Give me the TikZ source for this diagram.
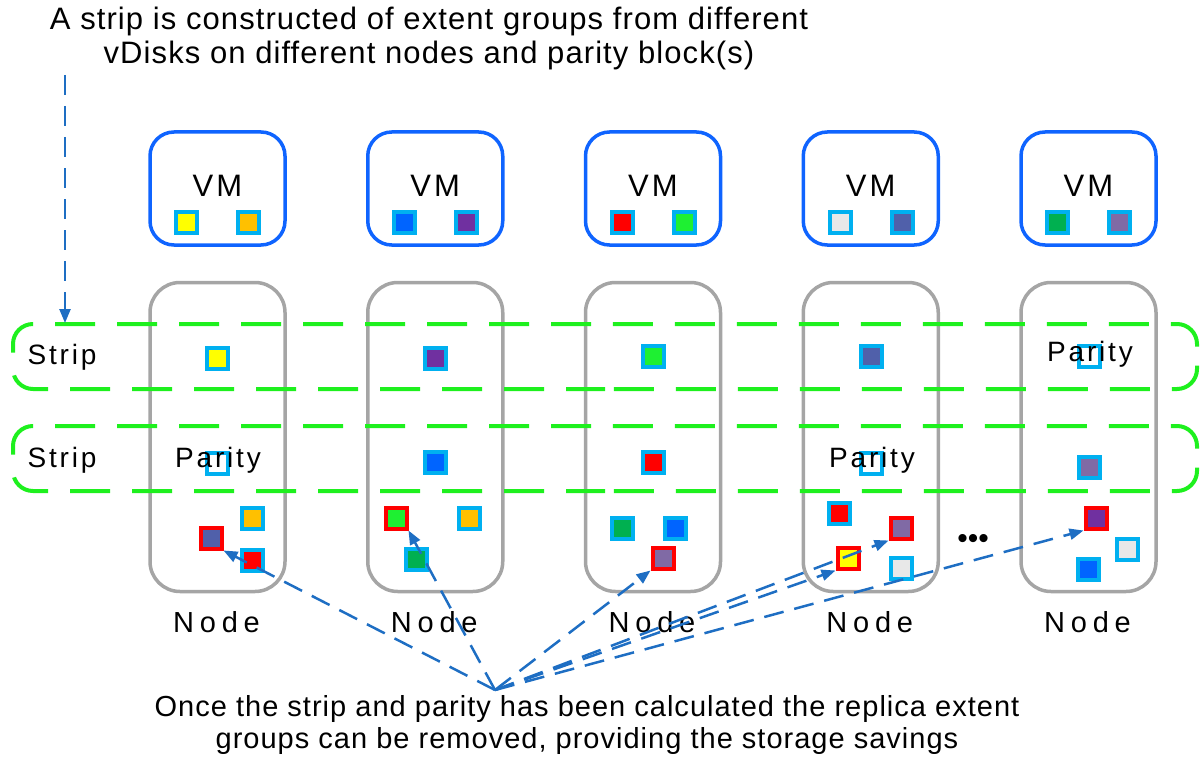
\documentclass[tikz,border=0pt]{standalone}
\usepackage{fontspec}
\setmainfont{Liberation Sans}
\newfontfamily\capfont[LetterSpace=3.5]{Liberation Sans}
\newfontfamily\lblfont[LetterSpace=10]{Liberation Sans}
\newfontfamily\nodefont[LetterSpace=20]{Liberation Sans}
\usetikzlibrary{arrows.meta}
\definecolor{vmblue}{RGB}{15,100,255}
\definecolor{boxgray}{RGB}{165,165,165}
\definecolor{sqcyan}{RGB}{0,176,240}
\definecolor{stripgreen}{RGB}{30,240,30}
\definecolor{arrblue}{RGB}{30,110,195}
\definecolor{cyellow}{RGB}{255,255,0}
\definecolor{corange}{RGB}{255,192,0}
\definecolor{cblue}{RGB}{0,100,255}
\definecolor{cpurple}{RGB}{112,48,160}
\definecolor{cred}{RGB}{255,0,0}
\definecolor{cgreen}{RGB}{30,240,50}
\definecolor{cgray}{RGB}{232,232,232}
\definecolor{cslate}{RGB}{80,96,170}
\definecolor{cdgreen}{RGB}{0,176,80}
\definecolor{cmauve}{RGB}{128,106,165}
\tikzset{
  vmbox/.style={draw=vmblue, line width=3.5pt, rounded corners=24pt, minimum width=135pt, minimum height=113pt, inner sep=0pt},
  nodebox/.style={draw=boxgray, line width=3.5pt, rounded corners=30pt, minimum width=135pt, minimum height=309pt, inner sep=0pt},
  sq/.style={draw=sqcyan, line width=4pt, minimum size=21pt, inner sep=0pt, fill=#1},
  rsq/.style={draw=cred, line width=4pt, minimum size=21pt, inner sep=0pt, fill=#1},
  psq/.style={draw=sqcyan, line width=4pt, minimum size=21pt, inner sep=0pt},
  vmtxt/.style={font=\lblfont\fontsize{31}{36}\selectfont, inner sep=0pt},
  lbltxt/.style={font=\lblfont\fontsize{28}{34}\selectfont, inner sep=0pt},
  nodetxt/.style={font=\nodefont\fontsize{29}{34}\selectfont, inner sep=0pt},
  captxt/.style={align=center, inner sep=0pt},
  stripseg/.style={draw=stripgreen, line width=4pt, dash pattern=on 40pt off 22pt, rounded corners=20pt},
  conn/.style={draw=arrblue, line width=2.5pt, dash pattern=on 20pt off 11pt, -{Triangle[length=14pt,width=11pt]}}
}
\begin{document}
\begin{tikzpicture}[x=1pt,y=-1pt]
\useasboundingbox (0,0) rectangle (1204,757);
% caption texts
\node[captxt, font=\capfont\fontsize{31}{34}\selectfont] (top) at (429,38) {A strip is constructed of extent groups from different\\vDisks on different nodes and parity block(s)};
\node[captxt, font=\capfont\fontsize{29}{32}\selectfont] (bot) at (587,725) {Once the strip and parity has been calculated the replica extent\\groups can be removed, providing the storage savings};
% VM boxes and node boxes
\foreach \i/\cx in {1/217.5,2/435.25,3/653,4/870.75,5/1088.5}{
  \node[vmbox] (vm\i) at (\cx,188.5) {};
  \node[vmtxt] (vmt\i) at (\cx,186) {VM};
  \node[nodebox] (nd\i) at (\cx,437) {};
  \node[nodetxt] (ndt\i) at (\cx-1,622) {Node};
}
% VM squares
\node[sq=cyellow] (v1a) at (186.5,222) {};
\node[sq=corange] (v1b) at (248.5,222) {};
\node[sq=cblue] (v2a) at (404,222) {};
\node[sq=cpurple] (v2b) at (466,222) {};
\node[sq=cred] (v3a) at (622,222) {};
\node[sq=cgreen] (v3b) at (684,222) {};
\node[sq=cgray] (v4a) at (840,222) {};
\node[sq=cslate] (v4b) at (902,222) {};
\node[sq=cdgreen] (v5a) at (1057.5,222) {};
\node[sq=cmauve] (v5b) at (1119.5,222) {};
% strips (each outline drawn in four quarters so that the dashes fall as in the reference)
\foreach \yt/\yb in {324/389,426/491}{
  \pgfmathsetmacro{\ym}{(\yt+\yb)/2}
  \draw[stripseg, dash phase=58pt] (13,\ym) -- (13,\yt) -- (605,\yt);
  \draw[stripseg, dash phase=52pt] (1197,\ym) -- (1197,\yt) -- (605,\yt);
  \draw[stripseg, dash phase=43pt] (13,\ym) -- (13,\yb) -- (605,\yb);
  \draw[stripseg, dash phase=53pt] (1197,\ym) -- (1197,\yb) -- (605,\yb);
}
\node[lbltxt] (st1) at (62,357) {Strip};
\node[lbltxt] (st2) at (62,460) {Strip};
% strip 1 contents
\node[sq=cyellow] (s1a) at (217.5,358) {};
\node[sq=cpurple] (s1b) at (435,358) {};
\node[sq=cgreen] (s1c) at (653,356) {};
\node[sq=cslate] (s1d) at (871,356) {};
\node[psq] (s1e) at (1089,356) {};
\node[lbltxt] (p1) at (1090,354) {Parity};
% strip 2 contents
\node[psq] (s2a) at (217.5,463) {};
\node[lbltxt] (p2) at (218,460) {Parity};
\node[sq=cblue] (s2b) at (435,462) {};
\node[sq=cred] (s2c) at (653,462) {};
\node[psq] (s2d) at (871,463) {};
\node[lbltxt] (p3) at (872,460) {Parity};
\node[sq=cmauve] (s2e) at (1089,467) {};
% replica groups
\node[sq=corange] (n1a) at (252,518) {};
\node[rsq=cslate] (n1b) at (211,538) {};
\node[sq=cred] (n1c) at (252,560) {};
\node[rsq=cgreen] (n2a) at (396,518) {};
\node[sq=corange] (n2b) at (469,518) {};
\node[sq=cdgreen] (n2c) at (416,559) {};
\node[sq=cdgreen] (n3a) at (622,528) {};
\node[sq=cblue] (n3b) at (675,528) {};
\node[rsq=cmauve] (n3c) at (663,558) {};
\node[sq=cred] (n4a) at (839,513) {};
\node[rsq=cmauve] (n4b) at (901,528) {};
\node[rsq=cyellow] (n4c) at (848,558) {};
\node[sq=cgray] (n4d) at (901,568) {};
\node[rsq=cpurple] (n5a) at (1096,518) {};
\node[sq=cgray] (n5b) at (1127,549) {};
\node[sq=cblue] (n5c) at (1088,569) {};
\node[font=\fontsize{30}{34}\selectfont, inner sep=0pt] (dots) at (973,541) {•••};
% connectors
\coordinate (C) at (495,690);
\coordinate (tA) at (65,75);
\coordinate (tB) at (65,323);
\draw[conn] (tA) -- (tB);
\draw[conn] (C) -- (n1b.south east);
\draw[conn] (C) -- (n2a.south east);
\draw[conn] (C) -- (n3c.south west);
\draw[conn] (C) -- (n4c.south west);
\draw[conn] (C) -- (n4b.south west);
\draw[conn] (C) -- (n5a.south west);
\end{tikzpicture}
\end{document}
